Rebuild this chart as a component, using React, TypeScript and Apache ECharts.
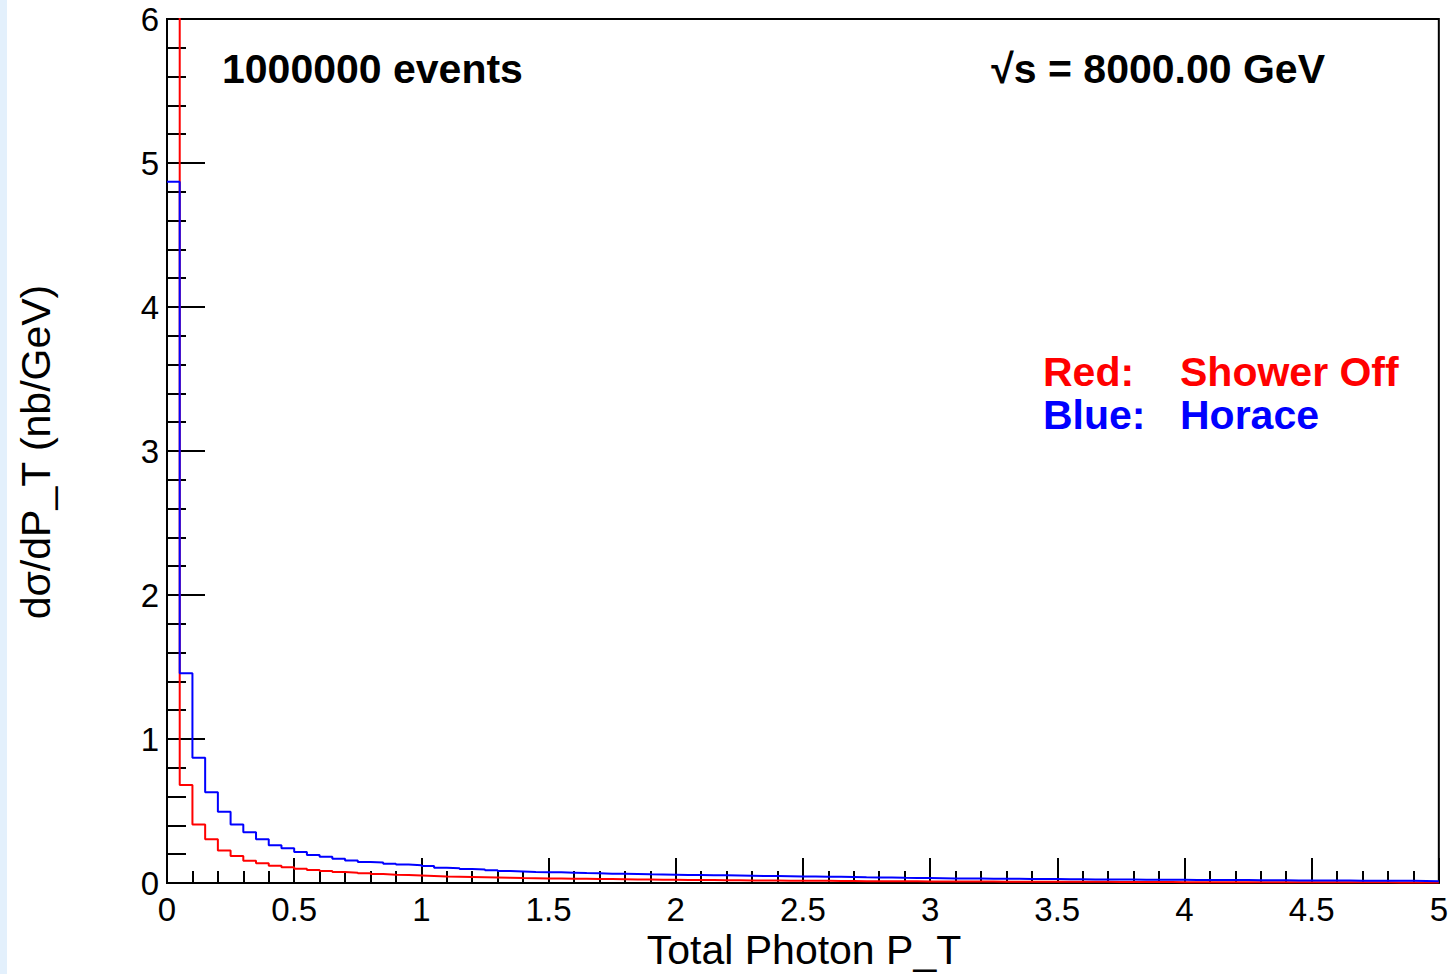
import React, { useEffect, useRef } from "react";
import * as echarts from "echarts";

// Histogram binning (x axis: Total Photon P_T)
const X_MIN = 0;
const X_MAX = 5;
const BIN_WIDTH = 0.05;

// Y axis range
const Y_MIN = 0;
const Y_MAX = 6;

// Red: Shower Off (first bin goes off-scale)
const showerOff: number[] = [
  9.5, 0.681, 0.407, 0.303, 0.225, 0.188, 0.155, 0.137, 0.12, 0.109,
  0.099, 0.09, 0.083, 0.076, 0.072, 0.067, 0.062, 0.058, 0.055, 0.052,
  0.049, 0.046, 0.044, 0.042, 0.04, 0.038, 0.036, 0.034, 0.033, 0.032,
  0.031, 0.03, 0.029, 0.028, 0.027, 0.026, 0.025, 0.024, 0.023, 0.022,
  0.021, 0.021, 0.02, 0.019, 0.019, 0.018, 0.017, 0.017, 0.016, 0.016,
  0.015, 0.015, 0.014, 0.014, 0.013, 0.013, 0.012, 0.012, 0.012, 0.011,
  0.011, 0.011, 0.01, 0.01, 0.01, 0.009, 0.009, 0.009, 0.009, 0.008,
  0.008, 0.008, 0.008, 0.008, 0.007, 0.007, 0.007, 0.007, 0.007, 0.006,
  0.006, 0.006, 0.006, 0.006, 0.006, 0.006, 0.005, 0.005, 0.005, 0.005,
  0.005, 0.005, 0.005, 0.005, 0.005, 0.005, 0.004, 0.004, 0.004, 0.004,
];

// Blue: Horace
const horace: number[] = [
  4.87, 1.456, 0.87, 0.63, 0.495, 0.407, 0.352, 0.303, 0.262, 0.241,
  0.215, 0.194, 0.183, 0.169, 0.157, 0.146, 0.143, 0.134, 0.128, 0.124,
  0.118, 0.106, 0.103, 0.097, 0.093, 0.088, 0.083, 0.08, 0.077, 0.075,
  0.074, 0.072, 0.069, 0.067, 0.065, 0.064, 0.062, 0.06, 0.059, 0.058,
  0.056, 0.055, 0.054, 0.053, 0.052, 0.051, 0.049, 0.048, 0.047, 0.046,
  0.045, 0.044, 0.043, 0.042, 0.04, 0.039, 0.038, 0.036, 0.035, 0.034,
  0.033, 0.032, 0.031, 0.031, 0.03, 0.03, 0.029, 0.028, 0.028, 0.027,
  0.026, 0.026, 0.025, 0.025, 0.024, 0.024, 0.023, 0.023, 0.022, 0.022,
  0.021, 0.021, 0.021, 0.02, 0.02, 0.019, 0.019, 0.019, 0.018, 0.018,
  0.017, 0.017, 0.017, 0.016, 0.016, 0.015, 0.015, 0.015, 0.014, 0.013,
];

const X_TITLE = "Total Photon P_T";
const Y_TITLE = "dσ/dP_T (nb/GeV)";
const EVENTS_TEXT = "1000000 events";
const ENERGY_TEXT = "√s = 8000.00 GeV";
const LEGEND_ROWS = [
  { label: "Red:", name: "Shower Off", color: "#ff0000" },
  { label: "Blue:", name: "Horace", color: "#0000ff" },
];

const FONT = '"Liberation Sans", Arial, Helvetica, sans-serif';

function stepData(values: number[]): number[][] {
  const pts = values.map((v, i) => [X_MIN + i * BIN_WIDTH, v]);
  pts.push([X_MIN + values.length * BIN_WIDTH, values[values.length - 1]]);
  return pts;
}

export default function App() {
  const ref = useRef<HTMLDivElement>(null);

  useEffect(() => {
    document.body.style.margin = "0";
    if (!ref.current) return;
    const chart = echarts.init(ref.current, undefined, { renderer: "svg" });

    const axisCommon = {
      type: "value" as const,
      axisLine: { show: true, onZero: false, lineStyle: { color: "#000", width: 2 } },
      splitLine: { show: false },
      axisLabel: { color: "#000", fontSize: 33, fontFamily: FONT, margin: 8 },
    };

    const legendGraphics: any[] = [];
    LEGEND_ROWS.forEach((row, i) => {
      const y = 372 + i * 43;
      legendGraphics.push({
        type: "text",
        x: 1043,
        y,
        style: {
          text: row.label,
          fill: row.color,
          fontSize: 41,
          fontWeight: "bold",
          fontFamily: FONT,
          align: "left",
          verticalAlign: "middle",
        },
      });
      legendGraphics.push({
        type: "text",
        x: 1180,
        y,
        style: {
          text: row.name,
          fill: row.color,
          fontSize: 41,
          fontWeight: "bold",
          fontFamily: FONT,
          align: "left",
          verticalAlign: "middle",
        },
      });
    });

    chart.setOption({
      animation: false,
      backgroundColor: "#ffffff",
      grid: {
        left: 167,
        top: 19,
        right: 9,
        bottom: 91,
        show: true,
        borderColor: "#000",
        borderWidth: 2,
        backgroundColor: "transparent",
      },
      xAxis: {
        ...axisCommon,
        min: X_MIN,
        max: X_MAX,
        interval: 0.5,
        axisTick: { show: true, inside: true, length: 25, lineStyle: { color: "#000", width: 2 } },
        minorTick: { show: true, splitNumber: 5, length: 12, lineStyle: { color: "#000", width: 2 } },
        axisLabel: { ...axisCommon.axisLabel, margin: 10 },
      },
      yAxis: {
        ...axisCommon,
        min: Y_MIN,
        max: Y_MAX,
        interval: 1,
        axisTick: { show: true, inside: true, length: 38, lineStyle: { color: "#000", width: 2 } },
        minorTick: { show: true, splitNumber: 5, length: 19, lineStyle: { color: "#000", width: 2 } },
      },
      series: [
        {
          name: "Shower Off",
          type: "line",
          step: "end",
          data: stepData(showerOff),
          symbol: "none",
          clip: true,
          lineStyle: { color: "#ff0000", width: 2 },
          z: 2,
        },
        {
          name: "Horace",
          type: "line",
          step: "end",
          data: stepData(horace),
          symbol: "none",
          clip: true,
          lineStyle: { color: "#0000ff", width: 2 },
          z: 3,
        },
      ],
      graphic: [
        {
          type: "rect",
          z: -10,
          shape: { x: 0, y: 0, width: 7, height: 974 },
          style: { fill: "#e3f0fc" },
        },
        {
          type: "text",
          x: 804,
          y: 950,
          style: {
            text: X_TITLE,
            fill: "#000",
            fontSize: 41,
            fontFamily: FONT,
            align: "center",
            verticalAlign: "middle",
          },
        },
        {
          type: "text",
          x: 36,
          y: 452,
          rotation: Math.PI / 2,
          style: {
            text: Y_TITLE,
            fill: "#000",
            fontSize: 41,
            fontFamily: FONT,
            align: "center",
            verticalAlign: "middle",
          },
        },
        {
          type: "text",
          x: 222,
          y: 69,
          style: {
            text: EVENTS_TEXT,
            fill: "#000",
            fontSize: 41,
            fontWeight: "bold",
            fontFamily: FONT,
            align: "left",
            verticalAlign: "middle",
          },
        },
        {
          type: "text",
          x: 1325,
          y: 69,
          style: {
            text: ENERGY_TEXT,
            fill: "#000",
            fontSize: 41,
            fontWeight: "bold",
            fontFamily: FONT,
            align: "right",
            verticalAlign: "middle",
          },
        },
        ...legendGraphics,
      ],
    });

    return () => chart.dispose();
  }, []);

  return <div ref={ref} style={{ width: 1451, height: 974 }} />;
}
